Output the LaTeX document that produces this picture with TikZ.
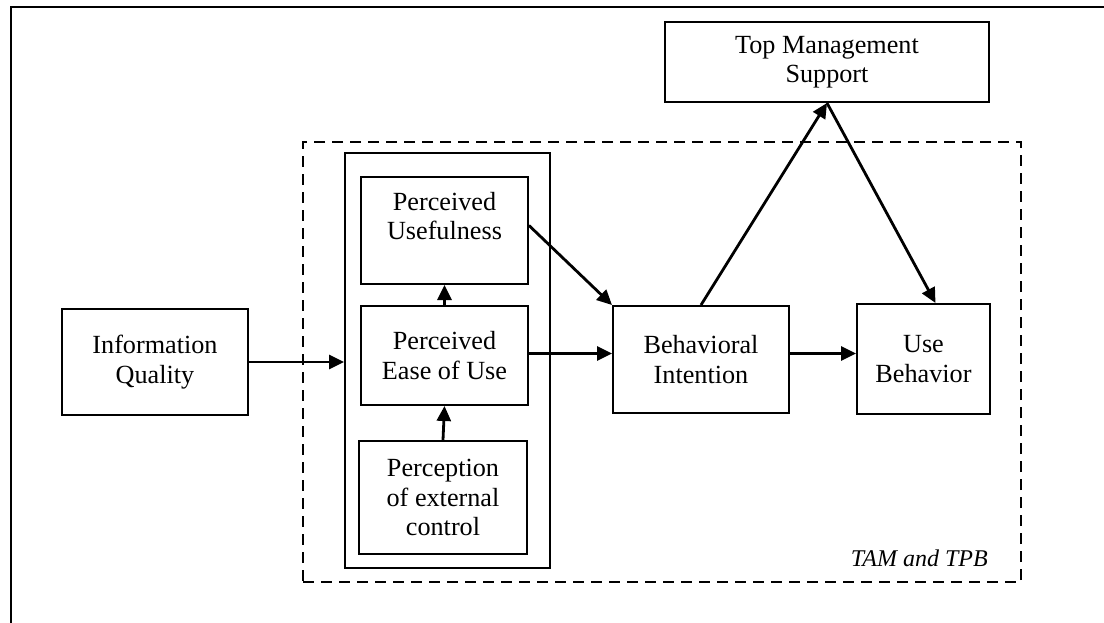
\documentclass[tikz,border=0pt]{standalone}
\usepackage{fontspec}
\setmainfont{Liberation Serif}
\usetikzlibrary{arrows.meta}
\begin{document}
\begin{tikzpicture}[x=1pt,y=-1pt,
  box/.style={draw,line width=2pt,align=center,inner sep=0pt,
    font=\fontsize{26.2}{29.5}\selectfont},
  arr/.style={line width=2.8pt,-{Triangle[length=15pt,width=14pt]}}]
\useasboundingbox (0,0) rectangle (1104,623);
\draw[line width=2pt] (11,623) -- (11,7) -- (1104,7);
% containers
\node[draw,line width=2.8pt,dash pattern=on 11pt off 7pt,
  minimum width=718pt,minimum height=440pt,inner sep=0pt] (tamtpb) at (662,362) {};
\node[draw,line width=2pt,minimum width=205pt,minimum height=415pt,inner sep=0pt] (cont) at (447.5,360.5) {};
\node[anchor=base east,inner sep=0pt,font=\fontsize{24}{27}\selectfont\itshape] (lab) at (988,566) {TAM and TPB};
% boxes
\node[box,minimum width=324pt,minimum height=80pt] (tms) at (827,62) {Top Management\\Support};
\node[box,minimum width=167pt,minimum height=107pt] (pu) at (444.5,230.5) {Perceived\\Usefulness\\~};
\node[box,minimum width=167pt,minimum height=99pt] (ease) at (444.5,355.5) {Perceived\\Ease of Use};
\node[box,minimum width=168pt,minimum height=113pt] (perc) at (443,497.5) {Perception\\of external\\control};
\node[box,minimum width=186pt,minimum height=106pt] (iq) at (155,362) {Information\\Quality};
\node[box,minimum width=176pt,minimum height=107pt] (bi) at (701,359.5) {Behavioral\\Intention};
\node[box,minimum width=133pt,minimum height=110pt] (ub) at (923.5,359) {Use\\Behavior};
% connectors
\draw[arr] (iq.east) -- (iq.east -| cont.west);
\draw[arr] (perc.north) -- (ease.south);
\draw[arr] (ease.north) -- (pu.south);
\draw[arr] ([yshift=2pt]ease.east) -- ([yshift=2pt]ease.east -| bi.west);
\draw[arr] ([yshift=2pt]ease.east -| bi.east) -- ([yshift=2pt]ease.east -| ub.west);
\draw[arr] ([yshift=5pt]pu.east) -- (bi.north west);
\draw[arr] (bi.north) -- (tms.south);
\draw[arr] (tms.south) -- ([xshift=12pt]ub.north);
\end{tikzpicture}
\end{document}
